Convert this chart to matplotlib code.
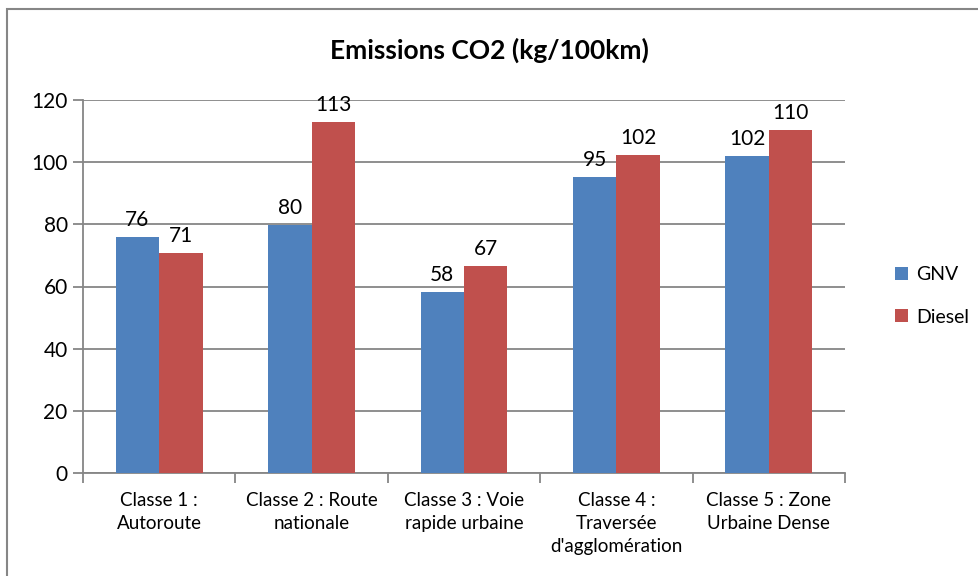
import numpy as np
import matplotlib.pyplot as plt
from matplotlib.patches import Rectangle
from matplotlib.ticker import FixedLocator, NullFormatter

plt.rcParams['font.family'] = ['Lato', 'DejaVu Sans']

# data
categories = ["Classe 1 :\nAutoroute", "Classe 2 : Route\nnationale",
              "Classe 3 : Voie\nrapide urbaine",
              "Classe 4 :\nTraversée\nd'agglomération",
              "Classe 5 : Zone\nUrbaine Dense"]
gnv = [75.9, 79.8, 58.2, 95.2, 102.0]
diesel = [70.8, 112.9, 66.6, 102.3, 110.4]
series_names = ["GNV", "Diesel"]
yticks = [0, 20, 40, 60, 80, 100, 120]

blue = '#4F81BD'
red = '#C0504D'
grey = '#868686'

fig = plt.figure(figsize=(9.79, 5.76), dpi=100)
ax = fig.add_axes([83/979, 1-473/576, (845-83)/979, (473-100)/576])

x = np.arange(len(categories))
w = 0.285
b1 = ax.bar(x - w/2, gnv, w, color=blue, label=series_names[0], zorder=3)
b2 = ax.bar(x + w/2, diesel, w, color=red, label=series_names[1], zorder=3)

for bars, vals in ((b1, gnv), (b2, diesel)):
    for rect, v in zip(bars, vals):
        ax.annotate('%d' % round(v), (rect.get_x() + rect.get_width()/2, v),
                    xytext=(0, 5), textcoords='offset points',
                    ha='center', va='bottom', fontsize=15, zorder=4)

ax.set_xlim(-0.5, len(categories) - 0.5)
ax.set_ylim(0, 120)
ax.set_yticks(yticks)
ax.yaxis.grid(True, color=grey, lw=1.3, zorder=0)
ax.tick_params(axis='y', length=7, width=1.3, color=grey, labelsize=15, pad=4)

# category labels centered, ticks at the boundaries
ax.set_xticks(x)
ax.set_xticklabels(categories, fontsize=13.5, linespacing=1.4)
ax.tick_params(axis='x', which='major', length=0, pad=14)
ax.xaxis.set_minor_locator(FixedLocator(np.arange(len(categories) + 1) - 0.5))
ax.xaxis.set_minor_formatter(NullFormatter())
ax.tick_params(axis='x', which='minor', length=7, width=1.3, color=grey)

for s in ['top', 'right']:
    ax.spines[s].set_visible(False)
for s in ['left', 'bottom']:
    ax.spines[s].set_color(grey)
    ax.spines[s].set_linewidth(1.3)

fig.text(0.5, 1 - 50/576, 'Emissions CO2 (kg/100km)', ha='center', va='center',
         fontsize=19, fontweight='bold')

leg = fig.legend(handles=[b1, b2], loc='center left',
                 bbox_to_anchor=(878/979, 1 - 296/576), frameon=False,
                 fontsize=14, handlelength=0.65, handleheight=0.65,
                 handletextpad=0.4, labelspacing=1.3)

# chart border (only left and top visible in the crop)
fig.patches.append(Rectangle((7/979, -0.1), 1.2, (576-9)/576 + 0.1,
                             transform=fig.transFigure, fill=False,
                             edgecolor=grey, lw=1.5))

fig.savefig('out.png', dpi=100)
